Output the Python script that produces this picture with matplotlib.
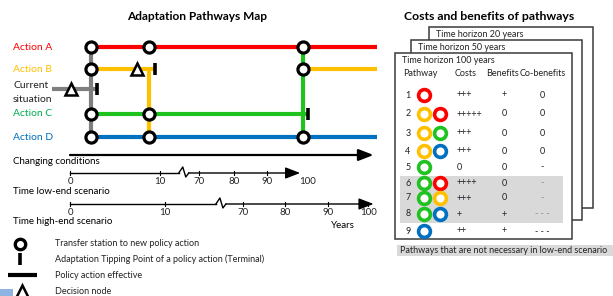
import numpy as np
import matplotlib
matplotlib.use("Agg")
from matplotlib import pyplot as plt
from matplotlib.patches import Rectangle

plt.rcParams['font.family'] = ['Lato', 'DejaVu Sans']

# --- map data (x in "changing conditions" units, 0..100 along the arrow) ---
actions = ["Action A", "Action B", "Action C", "Action D"]
action_colors = {"A": "#FF0000", "B": "#FFC000", "C": "#1FC21F", "D": "#0070C0", "Now": "#7F7F7F"}
label_colors = {"A": "#FF0000", "B": "#FFC000", "C": "#00B050", "D": "#0070C0"}
# effective periods of each action: (row, start, end)
segments = [("Now", -6, 9), ("A", 7, 101.5), ("B", 7, 28), ("B", 77, 101.5),
            ("C", 7, 78.5), ("D", 7, 101.5)]
# transfers between actions: (x, from row, to row, colour of line)
transfers = [(7, "A", "D", "Now"), (26, "B", "D", "B"), (77, "A", "D", "C")]
stations = [(7, "A"), (7, "B"), (7, "C"), (7, "D"), (26, "A"), (26, "C"), (26, "D"),
            (77, "A"), (77, "B"), (77, "D")]
tipping_points = [("Now", 8.9), ("B", 28.1), ("C", 78.8)]
decision_nodes = [("Now", 0.3), ("B", 22.2)]

# time axes
low_labels = ["0", "10", "70", "80", "90", "100"]
low_pos = [0, 29.8, 42.7, 54.3, 65.2, 78.5]
high_labels = ["0", "10", "70", "80", "90", "100"]
high_pos = [0, 31.5, 57.3, 71.2, 85.4, 98.7]

# --- cost/benefit table ---
horizons = ["Time horizon 20 years", "Time horizon 50 years", "Time horizon 100 years"]
pathway_ids = ["1", "2", "3", "4", "5", "6", "7", "8", "9"]
pathway_actions = [["A"], ["B", "A"], ["B", "C"], ["B", "D"], ["C"],
                   ["C", "A"], ["C", "B"], ["C", "D"], ["D"]]
costs = ["+++", "+++++", "+++", "+++", "0", "++++", "+++", "+", "++"]
benefits = ["+", "0", "0", "0", "0", "0", "0", "+", "+"]
cobenefits = ["0", "0", "0", "0", "-", "-", "-", "- - -", "- - -"]
not_needed_low = [5, 6, 7]

# layout (pixels)
row_y = {"A": 47, "B": 69, "Now": 89, "C": 114, "D": 137}
X0, SC = 70, 3.02


def px(c):
    return X0 + c * SC


fig = plt.figure(figsize=(6.13, 2.96), dpi=100)
ax = fig.add_axes([0, 0, 1, 1])
ax.set_xlim(0, 613)
ax.set_ylim(296, 0)
ax.axis("off")

ax.text(197, 16, "Adaptation Pathways Map", ha="center", va="center", fontsize=8.6, fontweight="bold")

# action labels
for name, key in zip(actions, ["A", "B", "C", "D"]):
    ax.text(13, row_y[key], name, ha="left", va="center", fontsize=7.5, color=label_colors[key])
ax.text(13, 86, "Current", ha="left", va="center", fontsize=7.5, color="#222222")
ax.text(13, 99, "situation", ha="left", va="center", fontsize=7.5, color="#222222")

# transfer lines
for x, r0, r1, col in transfers:
    ax.plot([px(x), px(x)], [row_y[r0], row_y[r1]], color=action_colors[col], lw=3, solid_capstyle="butt", zorder=2)
# effective periods
for r, a, b in segments:
    ax.plot([px(a), px(b)], [row_y[r], row_y[r]], color=action_colors[r], lw=3, solid_capstyle="butt", zorder=3)
for r, x in tipping_points:
    ax.plot(px(x), row_y[r], marker="|", ms=9, mew=2.6, color="black", zorder=5)
for r, x in decision_nodes:
    ax.plot(px(x), row_y[r], marker="^", ms=8, mew=1.8, mfc="white", mec="black", zorder=5)
for x, r in stations:
    ax.plot(px(x), row_y[r], marker="o", ms=8, mew=2.3, mfc="white", mec="black", zorder=6)

# changing conditions arrow
arrow = dict(arrowstyle="-|>,head_length=0.9,head_width=0.35", color="black", lw=1.6, shrinkA=0, shrinkB=0)
ax.annotate("", xy=(px(100.5), 155), xytext=(px(0), 155), arrowprops=arrow)
ax.text(13, 162, "Changing conditions", ha="left", va="center", fontsize=7)


def time_axis(y, pos, labels, brk, end, label_y):
    a = dict(arrowstyle="-|>,head_length=0.9,head_width=0.35", color="black", lw=1.0, shrinkA=0, shrinkB=0)
    zx = px(brk)
    ax.plot([px(0), zx - 6], [y, y], color="black", lw=1.0)
    ax.plot([zx - 6, zx - 2, zx + 1, zx + 4], [y, y - 6, y + 4, y], color="black", lw=1.0)
    ax.annotate("", xy=(px(end), y), xytext=(zx + 4, y), arrowprops=a)
    for p, lab in zip(pos, labels):
        if p <= end - 1:
            ax.plot([px(p), px(p)], [y - 2, y + 2], color="black", lw=0.8)
        ax.text(px(p), label_y, lab, ha="center", va="center", fontsize=7, color="#222222")


time_axis(173, low_pos, low_labels, 38, 76.2, 182)
ax.text(13, 192, "Time low-end scenario", ha="left", va="center", fontsize=7)
time_axis(204, high_pos, high_labels, 50.3, 100.5, 212.5)
ax.text(13, 222, "Time high-end scenario", ha="left", va="center", fontsize=7)
ax.text(px(90.5), 226, "Years", ha="center", va="center", fontsize=7)

# legend
ax.plot(20, 244, marker="o", ms=7.5, mew=2.4, mfc="white", mec="black")
ax.plot(20, 259, marker="|", ms=9, mew=2.6, color="black")
ax.plot([8, 37], [275, 275], color="black", lw=3, solid_capstyle="butt")
ax.plot(22, 291, marker="^", ms=8, mew=1.8, mfc="white", mec="black")
ax.add_patch(Rectangle((0, 289), 13, 7, color="#8DB4E2", lw=0))
for y, t in zip([244, 259, 275, 292],
                ["Transfer station to new policy action",
                 "Adaptation Tipping Point of a policy action (Terminal)",
                 "Policy action effective", "Decision node"]):
    ax.text(55, y, t, ha="left", va="center", fontsize=6.5, color="#222222")

# table
ax.text(489, 16, "Costs and benefits of pathways", ha="center", va="center", fontsize=8.8, fontweight="bold")
cards = [(429, 27, 593, 208), (411, 40, 582, 220), (395, 53, 572, 239)]
for (x0, y0, x1, y1), h in zip(cards, horizons):
    ax.add_patch(Rectangle((x0, y0), x1 - x0, y1 - y0, fc="white", ec="#3A3A3A", lw=1.1))
    ax.text(x0 + 7, y0 + 7.5, h, ha="left", va="center", fontsize=6.5, color="#222222")

rows = [95, 114, 133, 151, 167, 183, 198, 214, 231]
ax.add_patch(Rectangle((400, rows[not_needed_low[0]] - 7.5), 163,
                       rows[not_needed_low[-1]] - rows[not_needed_low[0]] + 16, fc="#D9D9D9", lw=0))
ax.text(403, 74, "Pathway", ha="left", va="center", fontsize=6.5, color="#222222")
ax.text(455, 74, "Costs", ha="left", va="center", fontsize=6.5, color="#222222")
ax.text(486, 74, "Benefits", ha="left", va="center", fontsize=6.5, color="#222222")
ax.text(520, 74, "Co-benefits", ha="left", va="center", fontsize=6.5, color="#222222")
for i, y in enumerate(rows):
    grey = i in not_needed_low
    ax.text(408, y, pathway_ids[i], ha="center", va="center", fontsize=6.5, color="#222222")
    for j, k in enumerate(pathway_actions[i]):
        ax.plot(424 + 15.5 * j, y, marker="o", ms=8.5, mew=2.6, mfc="white", mec=action_colors[k])
    ax.text(457, y, costs[i], ha="left", va="center", fontsize=6.5, color="#222222")
    ax.text(504, y, benefits[i], ha="center", va="center", fontsize=6.5, color="#222222")
    ax.text(542, y, cobenefits[i], ha="center", va="center", fontsize=6.5,
            color="#8C8C8C" if grey else "#222222")

ax.add_patch(Rectangle((397, 245), 220, 11, fc="#D9D9D9", lw=0))
ax.text(400, 250.5, "Pathways that are not necessary in low-end scenario", ha="left", va="center",
        fontsize=6.5, color="#222222")

fig.savefig("out.png", dpi=100)
